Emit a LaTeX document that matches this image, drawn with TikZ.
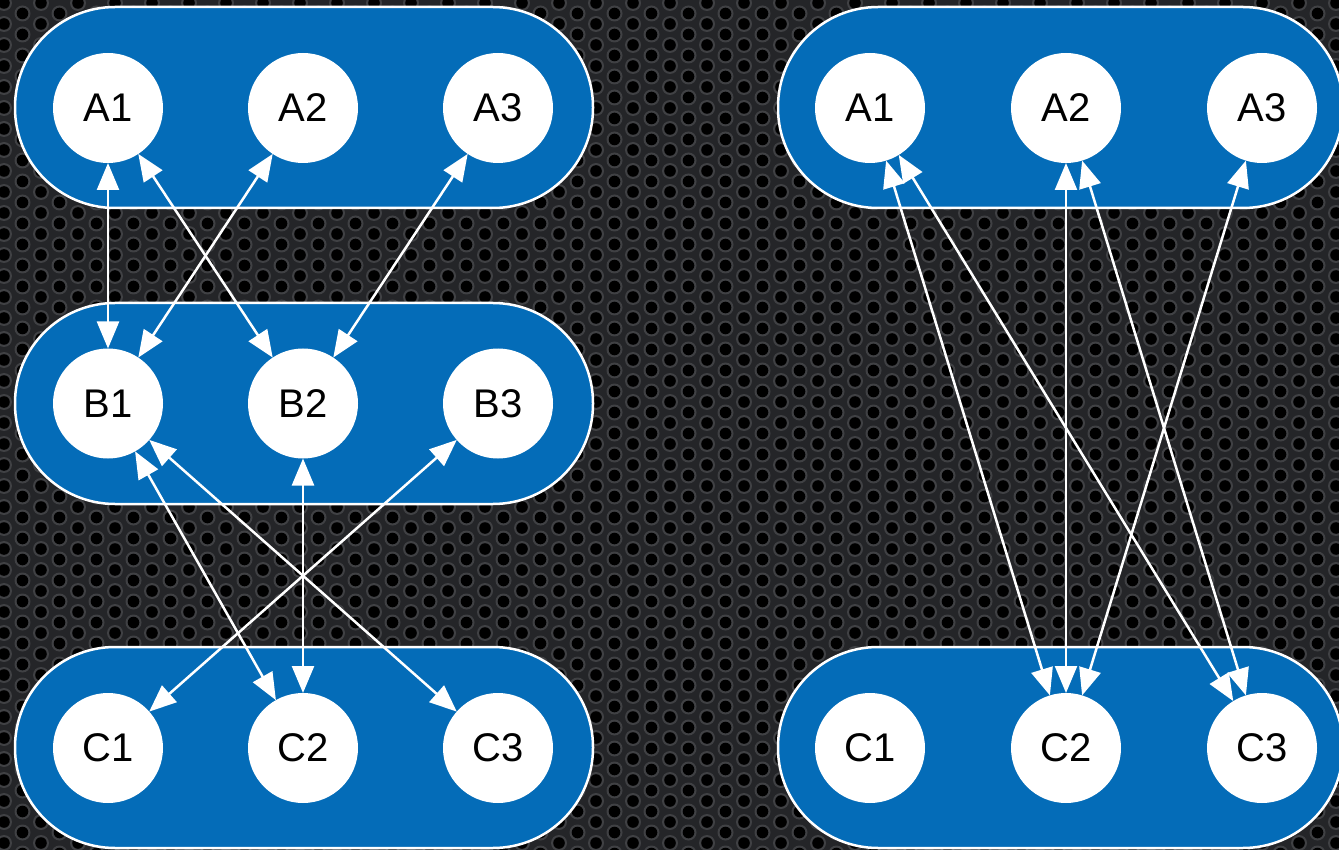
\documentclass[tikz,border=0pt]{standalone}
\usepackage{fontspec}
\setmainfont{Liberation Sans}
\usetikzlibrary{arrows.meta}
\definecolor{boxblue}{RGB}{4,108,184}
\definecolor{metal}{RGB}{36,37,40}
\definecolor{metalring}{RGB}{64,65,68}
\begin{document}
\begin{tikzpicture}[x=1pt,y=-1pt,
  box/.style={draw=white, line width=2.5pt, fill=boxblue, rounded corners=100pt,
    minimum height=201pt, inner sep=0pt, outer sep=0pt},
  circ/.style={circle, fill=white, minimum size=110pt, inner sep=0pt, outer sep=0pt,
    text=black, font=\fontsize{40}{48}\selectfont},
  link/.style={draw=white, line width=2.5pt,
    {Triangle[length=27pt,width=22pt]}-{Triangle[length=27pt,width=22pt]}}]
\useasboundingbox (0,0) rectangle (1339,850);
% perforated metal background
\fill[metal] (0,0) rectangle (1339,850);
\foreach \i in {0,...,72}{
  \fill[metalring] foreach \j in {0,...,41}{ ({\i*18.5+4},{\j*21+mod(\i,2)*10.5+3}) circle[radius=8] };
}
\foreach \i in {0,...,72}{
  \fill[black] foreach \j in {0,...,41}{ ({\i*18.5+4},{\j*21+mod(\i,2)*10.5+3}) circle[radius=5.8] };
}
% boxes
\node[box, minimum width=578pt] (LA) at (304,107.5) {};
\node[box, minimum width=578pt] (LB) at (304,403.5) {};
\node[box, minimum width=578pt] (LC) at (304,747.5) {};
\node[box, minimum width=565pt] (RA) at (1060.5,107.5) {};
\node[box, minimum width=565pt] (RC) at (1060.5,747.5) {};
% left circles
\node[circ] (la1) at (108,108) {A1};
\node[circ] (la2) at (303,108) {A2};
\node[circ] (la3) at (498,108) {A3};
\node[circ] (lb1) at (108,403.5) {B1};
\node[circ] (lb2) at (303,403.5) {B2};
\node[circ] (lb3) at (498,403.5) {B3};
\node[circ] (lc1) at (108,748) {C1};
\node[circ] (lc2) at (303,748) {C2};
\node[circ] (lc3) at (498,748) {C3};
% right circles
\node[circ] (ra1) at (870,108) {A1};
\node[circ] (ra2) at (1066,108) {A2};
\node[circ] (ra3) at (1262,108) {A3};
\node[circ] (rc1) at (870,748) {C1};
\node[circ] (rc2) at (1066,748) {C2};
\node[circ] (rc3) at (1262,748) {C3};
% left links
\draw[link] (la1) -- (lb1);
\draw[link] (la1) -- (lb2);
\draw[link] (la2) -- (lb1);
\draw[link] (la3) -- (lb2);
\draw[link] (lb1) -- (lc2);
\draw[link] (lb1) -- (lc3);
\draw[link] (lb2) -- (lc2);
\draw[link] (lb3) -- (lc1);
% right links
\draw[link] (ra1) -- (rc2);
\draw[link] (ra1) -- (rc3);
\draw[link] (ra2) -- (rc2);
\draw[link] (ra2) -- (rc3);
\draw[link] (ra3) -- (rc2);
\end{tikzpicture}
\end{document}
